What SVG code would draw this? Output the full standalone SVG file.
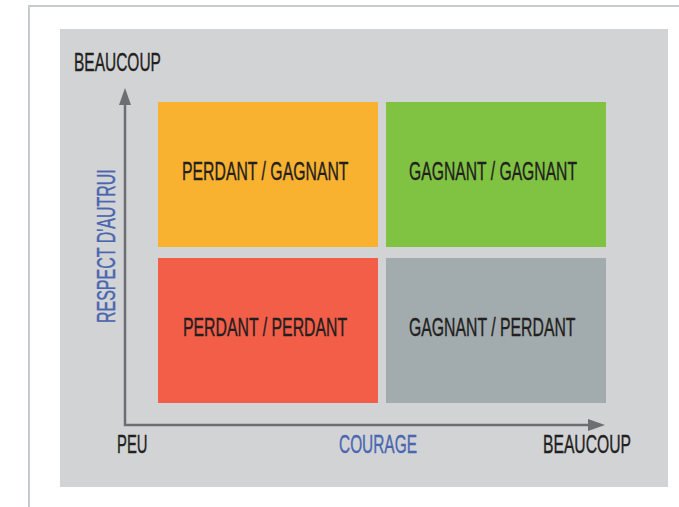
<svg xmlns="http://www.w3.org/2000/svg" width="679" height="507" viewBox="0 0 679 507">
  <style>
    .lbl { font-family: "Liberation Sans", Arial, sans-serif; font-size: 26px; fill: #231f20; stroke: #231f20; stroke-width: 0.4; }
    .blue { fill: #4a66b0; stroke: #4a66b0; }
    .axis { fill: none; stroke: #6d6e71; stroke-width: 2.5; }
  </style>
  <defs>
    <marker id="head" markerUnits="userSpaceOnUse" markerWidth="17" markerHeight="12" viewBox="0 0 17 12" refX="1" refY="6" orient="auto-start-reverse">
      <path d="M0,0 L17,6 L0,12 Z" fill="#6d6e71"/>
    </marker>
  </defs>

  <!-- page background and frame -->
  <rect x="0" y="0" width="679" height="507" fill="#ffffff"/>
  <path d="M29,507 V6 H679" fill="none" stroke="#c6cbce" stroke-width="2"/>

  <!-- panel -->
  <rect x="60" y="29" width="608" height="458" fill="#d1d3d5"/>

  <!-- quadrants (labels condensed horizontally) -->
  <g id="perdant-gagnant">
    <rect x="158" y="102" width="220" height="145" fill="#f8b22f"/>
    <text class="lbl" transform="translate(182,180) scale(0.608,1)">PERDANT / GAGNANT</text>
  </g>
  <g id="gagnant-gagnant">
    <rect x="386" y="102" width="220" height="145" fill="#80c342"/>
    <text class="lbl" transform="translate(409,180) scale(0.604,1)">GAGNANT / GAGNANT</text>
  </g>
  <g id="perdant-perdant">
    <rect x="158" y="258" width="220" height="145" fill="#f35e49"/>
    <text class="lbl" transform="translate(183,336) scale(0.609,1)">PERDANT / PERDANT</text>
  </g>
  <g id="gagnant-perdant">
    <rect x="386" y="258" width="220" height="145" fill="#a2acae"/>
    <text class="lbl" transform="translate(409,336) scale(0.608,1)">GAGNANT / PERDANT</text>
  </g>

  <!-- axes -->
  <g id="connectors">
    <path class="axis" d="M125,104 V425 H589" marker-start="url(#head)" marker-end="url(#head)"/>
  </g>

  <!-- axis labels -->
  <g id="labels">
    <text class="lbl" transform="translate(74,71) scale(0.596,1)">BEAUCOUP</text>
    <text class="lbl" transform="translate(117,453) scale(0.57,1)">PEU</text>
    <text class="lbl blue" transform="translate(339,453) scale(0.593,1)">COURAGE</text>
    <text class="lbl" transform="translate(543,453) scale(0.603,1)">BEAUCOUP</text>
    <text class="lbl blue" transform="translate(115,323) rotate(-90) scale(0.615,1)">RESPECT D'AUTRUI</text>
  </g>
</svg>
